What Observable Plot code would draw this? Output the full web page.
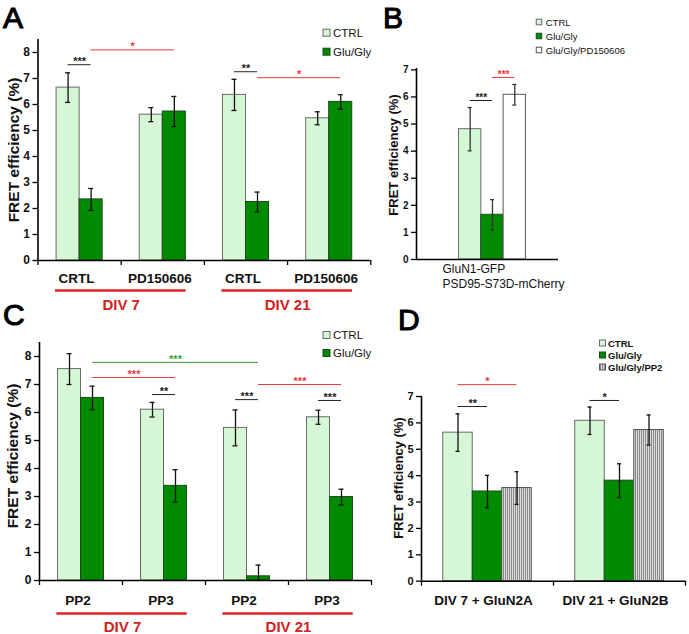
<!DOCTYPE html>
<html><head><meta charset="utf-8">
<script src="https://cdn.jsdelivr.net/npm/d3@7"></script>
<script src="https://cdn.jsdelivr.net/npm/@observablehq/plot@0.6"></script>
<style>
body{margin:0;background:#fff;}
#fig{position:relative;width:689px;height:634px;overflow:hidden;background:#fff;font-family:"Liberation Sans",Arial,sans-serif;}
#fig svg{position:absolute;overflow:visible;}
</style></head><body><div id="fig"></div>
<script>
// ---------- DATA ----------
// Panel A
const groupsA = ["CRTL", "PD150606", "CRTL", "PD150606"];
const divisionsA = ["DIV 7", "DIV 21"];
const seriesAC = ["CTRL", "Glu/Gly"];
const ctrlA = [6.65, 5.61, 6.37, 5.47];
const ctrlErrA = [0.57, 0.27, 0.60, 0.25];
const gluA = [2.35, 5.73, 2.25, 6.10];
const gluErrA = [0.42, 0.58, 0.38, 0.28];
const sigA = [
  {from: [0, 0], to: [0, 1], y: 7.53, label: "***", kind: "black"},
  {from: [0, 1], to: [1, 1], y: 8.10, label: "*", kind: "red"},
  {from: [2, 0], to: [2, 1], y: 7.26, label: "**", kind: "black"},
  {from: [2, 1], to: [3, 1], y: 7.03, label: "*", kind: "red"}
];
// Panel B
const groupsB = ["GluN1-GFP\nPSD95-S73D-mCherry"];
const seriesB = ["CTRL", "Glu/Gly", "Glu/Gly/PD150606"];
const valuesB = [4.81, 1.65, 6.08];
const errsB = [0.80, 0.56, 0.38];
const sigB = [
  {from: [0, 0], to: [0, 1], y: 5.87, label: "***", kind: "black"},
  {from: [0, 1], to: [0, 2], y: 6.72, label: "***", kind: "red"}
];
// Panel C
const groupsC = ["PP2", "PP3", "PP2", "PP3"];
const divisionsC = ["DIV 7", "DIV 21"];
const ctrlC = [7.55, 6.10, 5.45, 5.83];
const ctrlErrC = [0.55, 0.26, 0.64, 0.25];
const gluC = [6.52, 3.38, 0.15, 2.98];
const gluErrC = [0.42, 0.58, 0.40, 0.28];
const sigC = [
  {from: [0, 1], to: [2, 1], y: 7.79, label: "***", kind: "green"},
  {from: [0, 1], to: [1, 1], y: 7.25, label: "***", kind: "red"},
  {from: [1, 0], to: [1, 1], y: 6.64, label: "**", kind: "black"},
  {from: [2, 0], to: [2, 1], y: 6.46, label: "***", kind: "black"},
  {from: [2, 1], to: [3, 1], y: 7.00, label: "***", kind: "red"},
  {from: [3, 0], to: [3, 1], y: 6.43, label: "***", kind: "black"}
];
// Panel D
const groupsD = ["DIV 7 + GluN2A", "DIV 21 + GluN2B"];
const seriesD = ["CTRL", "Glu/Gly", "Glu/Gly/PP2"];
const ctrlD = [5.63, 6.08];
const ctrlErrD = [0.71, 0.52];
const gluD = [3.40, 3.81];
const gluErrD = [0.61, 0.64];
const pp2D = [3.53, 5.73];
const pp2ErrD = [0.62, 0.57];
const sigD = [
  {from: [0, 0], to: [0, 2], y: 7.45, label: "*", kind: "red"},
  {from: [0, 0], to: [0, 1], y: 6.62, label: "**", kind: "black"},
  {from: [1, 0], to: [1, 1], y: 6.85, label: "*", kind: "black"}
];
const ticks8 = [0, 1, 2, 3, 4, 5, 6, 7, 8];
const ticks7 = [0, 1, 2, 3, 4, 5, 6, 7];

// ---------- STYLE ----------
const LIGHT = "#d5f7d5", LIGHT_STROKE = "#6a6a6a";
const DARK = "#008a00", DARK_STROKE = "#1d4a1d";
const WHITE = "#ffffff", WHITE_STROKE = "#555555";
const HATCH = "url(#hatchD)", HATCH_STROKE = "#555555";
const SIGCOL = {black: "#222222", red: "#e8393a", green: "#3f9e3f"};
const REDTXT = "#d2221e";
const FONT = "Liberation Sans, Arial, sans-serif";

const fig = d3.select("#fig");

function panel(cfg) {
  const k = cfg.series.length;
  const xd = cfg.xDomain;
  const pxPerUnit = (cfg.width - cfg.marginLeft - cfg.marginRight) / (xd[1] - xd[0]);
  const cap = cfg.capPx / pxPerUnit;
  const barX = (g, s) => g + 0.5 + (s - k / 2 + 0.5) * cfg.barW;
  const marks = [];
  cfg.series.forEach((s, j) => {
    const rows = s.values.map((v, i) => ({g: i, v, e: s.errs[i], xc: barX(i, j)}));
    marks.push(Plot.rectY(rows, {
      x1: d => d.xc - cfg.barW / 2, x2: d => d.xc + cfg.barW / 2, y1: 0, y2: "v",
      fill: s.fill, stroke: s.stroke, strokeWidth: 1
    }));
  });
  // error bars
  cfg.series.forEach((s, j) => {
    const rows = s.values.map((v, i) => ({v, e: s.errs[i], xc: barX(i, j)}));
    const ec = s.errColor || "#111";
    marks.push(Plot.ruleX(rows, {x: "xc", y1: d => Math.max(0, d.v - d.e), y2: d => d.v + d.e, stroke: ec, strokeWidth: 1.3}));
    marks.push(Plot.ruleY(rows, {y: d => d.v + d.e, x1: d => d.xc - cap, x2: d => d.xc + cap, stroke: ec, strokeWidth: 1.3}));
    marks.push(Plot.ruleY(rows.filter(d => d.v - d.e > 0), {y: d => d.v - d.e, x1: d => d.xc - cap, x2: d => d.xc + cap, stroke: ec, strokeWidth: 1.3}));
  });
  // significance
  marks.push(Plot.ruleY(cfg.sig, {
    y: "y", x1: d => barX(...d.from), x2: d => barX(...d.to),
    stroke: d => SIGCOL[d.kind], strokeWidth: 1
  }));
  marks.push(Plot.text(cfg.sig, {
    x: d => (barX(...d.from) + barX(...d.to)) / 2, y: "y", text: "label",
    fill: d => SIGCOL[d.kind], fontSize: cfg.starSize, fontWeight: "bold", dy: -3
  }));
  // axes
  marks.push(Plot.ruleX([xd[0]], {stroke: "#000", strokeWidth: 1.6}));
  marks.push(Plot.ruleY([0], {stroke: "#000", strokeWidth: 1.6}));
  marks.push(Plot.axisY({
    ticks: cfg.yTicks, tickFormat: d3.format("d"), tickSize: 5, tickPadding: 3, label: null,
    fontSize: cfg.yTickSize, fontWeight: "bold", fill: "#111", stroke: "#000", strokeWidth: 1.3
  }));
  if (cfg.xTicks) {
    marks.push(Plot.axisX({
      ticks: d3.range(cfg.groups.length + 1), tickSize: 5, tickFormat: () => "", label: null,
      stroke: "#000", strokeWidth: 1.3
    }));
  }
  // category labels
  marks.push(Plot.text(cfg.groups, {
    x: (d, i) => i + 0.5, y: () => 0, text: d => d,
    dy: cfg.labelDy, dx: cfg.labelDx || 0, fontSize: cfg.labelSize, fontWeight: cfg.labelWeight || "bold",
    fill: "#111", textAnchor: cfg.labelAnchor || "middle", lineHeight: cfg.lineHeight || 1
  }));
  if (cfg.divisions) {
    const divs = cfg.divisions.map((t, i) => ({t, g1: 2 * i, g2: 2 * i + 1}));
    marks.push(Plot.ruleY(divs, {y: () => 0, x1: d => d.g1 + 0.21, x2: d => d.g2 + 0.78, dy: cfg.divDy, stroke: "#e0231f", strokeWidth: 2.4}));
    marks.push(Plot.text(divs, {x: d => (d.g1 + d.g2 + 1) / 2, y: () => 0, text: "t", dy: cfg.divTextDy, fill: REDTXT, fontSize: 15, fontWeight: "bold"}));
  }
  const plot = Plot.plot({
    width: cfg.width, height: cfg.height,
    marginLeft: cfg.marginLeft, marginRight: cfg.marginRight,
    marginTop: cfg.marginTop, marginBottom: cfg.marginBottom,
    x: {domain: xd, axis: null},
    y: {domain: cfg.yDomain, axis: null},
    color: {type: "identity"},
    style: {background: "transparent", overflow: "visible", fontFamily: FONT, color: "#000"},
    marks
  });
  plot.style.position = "absolute";
  plot.style.left = cfg.left + "px";
  plot.style.top = cfg.top + "px";
  plot.style.maxWidth = "none";
  document.getElementById("fig").appendChild(plot);
  return plot;
}

// Panel A
panel({
  left: 0, top: 0, width: 400, height: 320,
  marginLeft: 37.5, marginRight: 29.7, marginTop: 39, marginBottom: 60,
  xDomain: [0, 4], yDomain: [0, 8.5], yTicks: ticks8, yTickSize: 12, xTicks: true,
  groups: groupsA, divisions: divisionsA,
  series: [
    {values: ctrlA, errs: ctrlErrA, fill: LIGHT, stroke: LIGHT_STROKE},
    {values: gluA, errs: gluErrA, fill: DARK, stroke: DARK_STROKE}
  ],
  barW: 0.277, capPx: 2.5, sig: sigA, starSize: 11,
  labelDy: 18, labelDx: -3, labelSize: 13.5, divDy: 30, divTextDy: 45
});
// Panel B (no x ticks in the original)
panel({
  left: 345, top: 0, width: 344, height: 320,
  marginLeft: 71, marginRight: 131, marginTop: 68, marginBottom: 61,
  xDomain: [-0.035, 0.965], yDomain: [0, 7.05], yTicks: ticks7, yTickSize: 10, xTicks: false,
  groups: groupsB,
  series: [
    {values: [valuesB[0]], errs: [errsB[0]], fill: LIGHT, stroke: LIGHT_STROKE, errColor: "#333"},
    {values: [valuesB[1]], errs: [errsB[1]], fill: DARK, stroke: DARK_STROKE, errColor: "#333"},
    {values: [valuesB[2]], errs: [errsB[2]], fill: WHITE, stroke: WHITE_STROKE, errColor: "#333"}
  ],
  barW: 0.157, capPx: 2, sig: sigB, starSize: 10,
  labelDy: 16.5, labelDx: -50, labelSize: 12, labelWeight: "normal", labelAnchor: "start", lineHeight: 1.25
});
// Panel C
panel({
  left: 0, top: 320, width: 400, height: 314,
  marginLeft: 39, marginRight: 29, marginTop: 22, marginBottom: 54,
  xDomain: [0, 4], yDomain: [0, 8.5], yTicks: ticks8, yTickSize: 12, xTicks: true,
  groups: groupsC, divisions: divisionsC,
  series: [
    {values: ctrlC, errs: ctrlErrC, fill: LIGHT, stroke: LIGHT_STROKE},
    {values: gluC, errs: gluErrC, fill: DARK, stroke: DARK_STROKE}
  ],
  barW: 0.277, capPx: 2.5, sig: sigC, starSize: 11,
  labelDy: 20, labelDx: -3, labelSize: 13.5, divDy: 33, divTextDy: 46.5
});
// Panel D
const plotD = panel({
  left: 345, top: 320, width: 344, height: 314,
  marginLeft: 76, marginRight: 4, marginTop: 76, marginBottom: 53.3,
  xDomain: [0, 2], yDomain: [0, 7], yTicks: ticks7, yTickSize: 11, xTicks: true,
  groups: groupsD,
  series: [
    {values: ctrlD, errs: ctrlErrD, fill: LIGHT, stroke: LIGHT_STROKE},
    {values: gluD, errs: gluErrD, fill: DARK, stroke: DARK_STROKE},
    {values: pp2D, errs: pp2ErrD, fill: HATCH, stroke: HATCH_STROKE}
  ],
  barW: 0.2235, capPx: 2, sig: sigD, starSize: 11,
  labelDy: 19, labelDx: -4, labelSize: 13.5
});
// hatch pattern for D
const defs = d3.select(plotD).insert("defs", ":first-child");
const pat = defs.append("pattern").attr("id", "hatchD").attr("patternUnits", "userSpaceOnUse")
  .attr("width", 2).attr("height", 4);
pat.append("rect").attr("width", 2).attr("height", 4).attr("fill", "#dcdcdc");
pat.append("rect").attr("width", 1).attr("height", 4).attr("fill", "#8a8a8a");

// ---------- OVERLAY: panel letters, axis titles, legends ----------
const ov = fig.append("svg").attr("width", 689).attr("height", 634)
  .style("left", "0px").style("top", "0px");
[["A", 3, 27.5], ["B", 383, 27.5], ["C", 3, 325], ["D", 398, 330]].forEach(([t, x, y]) => {
  ov.append("text").attr("x", x).attr("y", y).text(t)
    .attr("font-family", FONT).attr("font-weight", "normal").attr("font-size", 30)
    .attr("fill", "#000").attr("stroke", "#000").attr("stroke-width", 1.1);
});
[["FRET efficiency (%)", 13, 150, 15.5], ["FRET efficiency (%)", 12, 456, 15.5],
 ["FRET efficiency (%)", 393, 155, 13], ["FRET efficiency (%)", 398, 478, 13]].forEach(([t, x, y, fs]) => {
  ov.append("text").attr("transform", `translate(${x},${y}) rotate(-90)`)
    .attr("text-anchor", "middle").attr("dominant-baseline", "central")
    .attr("font-family", FONT).attr("font-weight", "bold").attr("font-size", fs).attr("fill", "#111").text(t);
});
function legend(x, ys, names, fills, strokes, size, fs, weight, gap) {
  names.forEach((n, i) => {
    ov.append("rect").attr("x", x - size / 2).attr("y", ys[i] - size / 2).attr("width", size).attr("height", size)
      .attr("fill", fills[i]).attr("stroke", strokes[i]).attr("stroke-width", 1);
    ov.append("text").attr("x", x + size / 2 + gap).attr("y", ys[i]).attr("dominant-baseline", "central")
      .attr("font-family", FONT).attr("font-size", fs).attr("font-weight", weight).attr("fill", "#111").text(n);
  });
}
legend(326.5, [32.7, 51.7], seriesAC, [LIGHT, DARK], [LIGHT_STROKE, DARK_STROKE], 7, 11.5, "normal", 3);
legend(326.5, [335, 353], seriesAC, [LIGHT, DARK], [LIGHT_STROKE, DARK_STROKE], 7, 11.5, "normal", 3);
legend(539, [22, 36, 50], seriesB, [LIGHT, DARK, WHITE], [LIGHT_STROKE, DARK_STROKE, WHITE_STROKE], 5.5, 9.5, "normal", 4);
const odefs = ov.append("defs");
const p2 = odefs.append("pattern").attr("id", "hatchL").attr("patternUnits", "userSpaceOnUse").attr("width", 2).attr("height", 4);
p2.append("rect").attr("width", 2).attr("height", 4).attr("fill", "#dcdcdc");
p2.append("rect").attr("width", 1).attr("height", 4).attr("fill", "#8a8a8a");
legend(602.5, [343, 355, 367], seriesD, [LIGHT, DARK, "url(#hatchL)"], [LIGHT_STROKE, DARK_STROKE, HATCH_STROKE], 6, 9.5, "bold", 2.5);
</script>
</body></html>
